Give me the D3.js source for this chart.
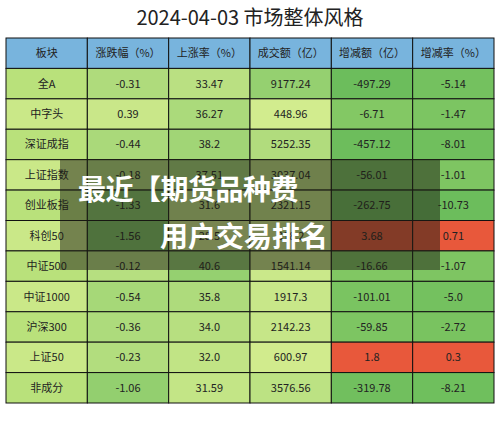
<!DOCTYPE html><html><head><meta charset="utf-8">
<script src="https://cdn.jsdelivr.net/npm/d3@7"></script>
<style>body{margin:0;background:#fff}text{font-family:"Noto Sans CJK SC",sans-serif}</style></head><body>
<svg id="c" width="500" height="431"></svg>
<script>
const title="2024-04-03  市场整体风格";
const headers=["板块","涨跌幅（%）","上涨率（%）","成交额（亿）","增减额（亿）","增减率（%）"];
const categories=["全A","中字头","深证成指","上证指数","创业板指","科创50","中证500","中证1000","沪深300","上证50","非成分"];
const change=["-0.31","0.39","-0.44","-0.18","-1.33","-1.56","-0.12","-0.54","-0.36","-0.23","-1.06"];
const upRate=["33.47","36.27","38.2","37.51","31.6","28.5","40.6","35.8","34.0","32.0","31.59"];
const turnover=["9177.24","448.96","5252.35","3037.04","2321.15","318.2","1541.14","1917.3","2142.23","600.97","3576.56"];
const delta=["-497.29","-6.71","-457.12","-56.01","-262.75","3.68","-16.66","-101.01","-59.85","1.8","-319.78"];
const deltaRate=["-5.14","-1.47","-8.01","-1.01","-10.73","0.71","-1.07","-5.0","-2.72","0.3","-8.21"];
const cols=[change,upRate,turnover,delta,deltaRate].map(a=>a.map(Number));
const labels=[change,upRate,turnover,delta,deltaRate];
const svg=d3.select("#c");
svg.append("text").attr("x",250).attr("y",25).attr("text-anchor","middle").attr("font-size",20).attr("fill","#222").text(title);
const x=d3.scaleBand().domain(d3.range(6)).range([6,494]);
const y=d3.scaleBand().domain(d3.range(12)).range([38,403]);
const light="#d3ec8e",dark="#6cbd5c";
function color(ci,v){
  const a=cols[ci];
  if(ci>=3&&v>0)return "#e8583b";
  if(ci>=3){const m=d3.max(a,d=>-d);return d3.interpolateRgb("#86c965",dark)(Math.sqrt(-v/m));}
  const e=d3.extent(a);const t=(v-e[0])/(e[1]-e[0]);
  return d3.interpolateRgb(dark,light)(ci==0?t*0.7+0.2:1-t*0.6);
}
headers.forEach((h,i)=>{
  svg.append("rect").attr("x",x(i)).attr("y",y(0)).attr("width",x.bandwidth()).attr("height",y.bandwidth()).attr("fill","#78b4dd").attr("stroke","#111");
  svg.append("text").attr("x",x(i)+x.bandwidth()/2).attr("y",y(0)+y.bandwidth()/2+4).attr("text-anchor","middle").attr("font-size",11).attr("fill","#222").text(h);
});
categories.forEach((c,r)=>{
  const row=r+1;
  svg.append("rect").attr("x",x(0)).attr("y",y(row)).attr("width",x.bandwidth()).attr("height",y.bandwidth()).attr("fill",d3.interpolateRgb(light,"#a8d96e")(r%2?0.2:0.6)).attr("stroke","#111");
  svg.append("text").attr("x",x(0)+x.bandwidth()/2).attr("y",y(row)+y.bandwidth()/2+4).attr("text-anchor","middle").attr("font-size",11).attr("fill","#222").text(c);
  cols.forEach((a,ci)=>{
    svg.append("rect").attr("x",x(ci+1)).attr("y",y(row)).attr("width",x.bandwidth()).attr("height",y.bandwidth()).attr("fill",color(ci,a[r])).attr("stroke","#111");
    svg.append("text").attr("x",x(ci+1)+x.bandwidth()/2).attr("y",y(row)+y.bandwidth()/2+4).attr("text-anchor","middle").attr("font-size",11).attr("fill","#222").text(labels[ci][r]);
  });
});
svg.append("rect").attr("x",60).attr("y",159).attr("width",380).attr("height",111).attr("fill","rgba(30,30,20,0.5)");
svg.append("text").attr("x",78).attr("y",200).attr("font-size",28).attr("font-weight","bold").attr("letter-spacing",-0.5).attr("textLength",220).attr("fill","#fff").text("最近【期货品种费");
svg.append("text").attr("x",160).attr("y",247).attr("font-size",28).attr("font-weight","bold").attr("fill","#fff").text("用户交易排名");
</script></body></html>
